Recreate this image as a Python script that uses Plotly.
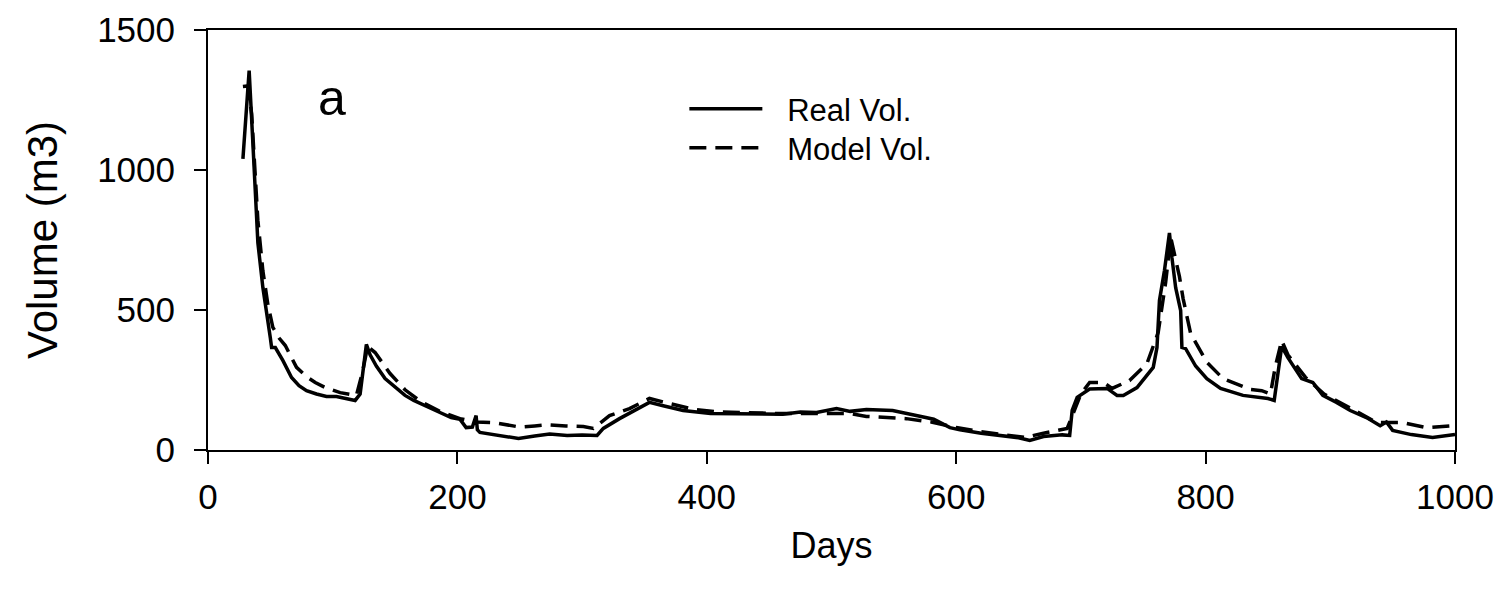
import plotly.graph_objects as go

# Real volume (solid)
real_days = [28, 33, 36, 40, 44, 48, 50, 51, 54, 60, 67, 73, 79, 87, 95, 103, 110, 118, 122, 125, 127,
             130, 135, 142, 150, 158, 165, 175, 186, 195, 202, 207, 212, 215, 216, 218, 225, 234, 249,
             262, 274, 288, 300, 312, 317, 330, 346, 354, 365, 381, 403, 435, 461, 475, 488, 504, 515,
             528, 549, 568, 582, 595, 603, 620, 635, 650, 659, 670, 685, 691, 693, 697, 707, 721, 729,
             734, 745, 752, 758, 761, 763, 767, 771, 773, 776, 780, 781, 784, 792, 801, 812, 830, 850,
             855, 858, 861, 866, 877, 886, 894, 905, 916, 929, 940, 945, 950, 965, 982, 1000]
real_vol = [1040, 1355, 1095, 740, 580, 470, 400, 366, 366, 320, 259, 230, 212, 200, 191, 191, 185, 177,
            200, 300, 377, 340, 300, 255, 225, 195, 177, 155, 134, 116, 110, 80, 82, 123, 72, 63, 58, 52,
            41, 50, 57, 52, 54, 52, 77, 112, 152, 170, 158, 141, 130, 130, 128, 136, 134, 148, 138, 145,
            141, 123, 110, 80, 72, 60, 52, 44, 34, 48, 54, 52, 141, 188, 218, 220, 195, 195, 223, 260,
            295, 366, 534, 641, 775, 687, 580, 498, 366, 362, 300, 255, 220, 195, 184, 177, 270, 370,
            330, 255, 241, 195, 170, 141, 116, 87, 100, 70, 55, 45, 55]

# Model volume (dashed)
model_days = [28, 32, 35, 40, 44, 48, 52, 57, 62, 71, 79, 86, 94, 106, 119, 124, 128, 134, 146, 158, 170,
              186, 202, 215, 229, 240, 250, 262, 272, 287, 301, 309, 322, 338, 354, 370, 390, 410, 435,
              461, 488, 504, 515, 528, 541, 560, 580, 600, 620, 640, 655, 670, 685, 689, 700, 707, 718,
              725, 739, 753, 762, 768, 772, 775, 779, 782, 788, 801, 814, 836, 845, 852, 856, 861, 866,
              880, 895, 916, 937, 958, 977, 1000]
model_vol = [1298, 1300, 1200, 820, 640, 520, 438, 400, 373, 295, 262, 241, 223, 205, 195, 280, 370, 348,
             273, 215, 175, 138, 112, 100, 98, 88, 82, 86, 90, 86, 84, 77, 123, 148, 184, 166, 145, 136,
             132, 130, 130, 130, 130, 120, 116, 112, 100, 80, 65, 55, 45, 60, 75, 77, 200, 241, 241, 220,
             248, 309, 420, 600, 760, 700, 620, 540, 416, 313, 255, 216, 212, 200, 300, 391, 340, 260,
             200, 150, 98, 98, 80, 87]

x_ticks = [0, 200, 400, 600, 800, 1000]
y_ticks = [0, 500, 1000, 1500]

FONT = "Liberation Sans, Arial, sans-serif"
GAP = "\u00a0\u00a0\u200a"

fig = go.Figure()
fig.add_trace(go.Scatter(x=real_days, y=real_vol, mode="lines", name=GAP + "Real Vol.",
                         legend="legend",
                         line=dict(color="black", width=3.5)))
fig.add_trace(go.Scatter(x=model_days, y=model_vol, mode="lines", name=GAP + "Model Vol.",
                         legend="legend2",
                         line=dict(color="black", width=3.5, dash="17px,9px")))

axis_common = dict(showgrid=False, zeroline=False, showline=True, linecolor="black", linewidth=2,
                   mirror=True, ticks="outside", ticklen=12, tickwidth=2, tickcolor="black",
                   automargin=False,
                   tickfont=dict(family=FONT, size=35, color="black"))

fig.update_xaxes(range=[0, 1000], tickvals=x_ticks, ticklabelstandoff=3,
                 title=dict(text="Days", font=dict(family=FONT, size=36, color="black"), standoff=18),
                 **axis_common)
fig.update_yaxes(range=[0, 1500], tickvals=y_ticks, ticklabelstandoff=12,
                 title=dict(text="Volume (m3)", font=dict(family=FONT, size=42, color="black"), standoff=26),
                 **axis_common)

fig.add_annotation(text="a", xref="paper", yref="paper", x=0.087, y=0.91, showarrow=False,
                   font=dict(family=FONT, size=50, color="black"))

legend_common = dict(x=0.382, xanchor="left", yanchor="top", bgcolor="rgba(0,0,0,0)",
                     font=dict(family=FONT, size=31, color="black"), itemwidth=73)

fig.update_layout(
    width=1494, height=595,
    margin=dict(l=200, r=47, t=22, b=153, autoexpand=False),
    plot_bgcolor="white", paper_bgcolor="white",
    showlegend=True,
    legend=dict(y=0.876, **legend_common),
    legend2=dict(y=0.783, **legend_common),
)

fig.write_html("out.html")
